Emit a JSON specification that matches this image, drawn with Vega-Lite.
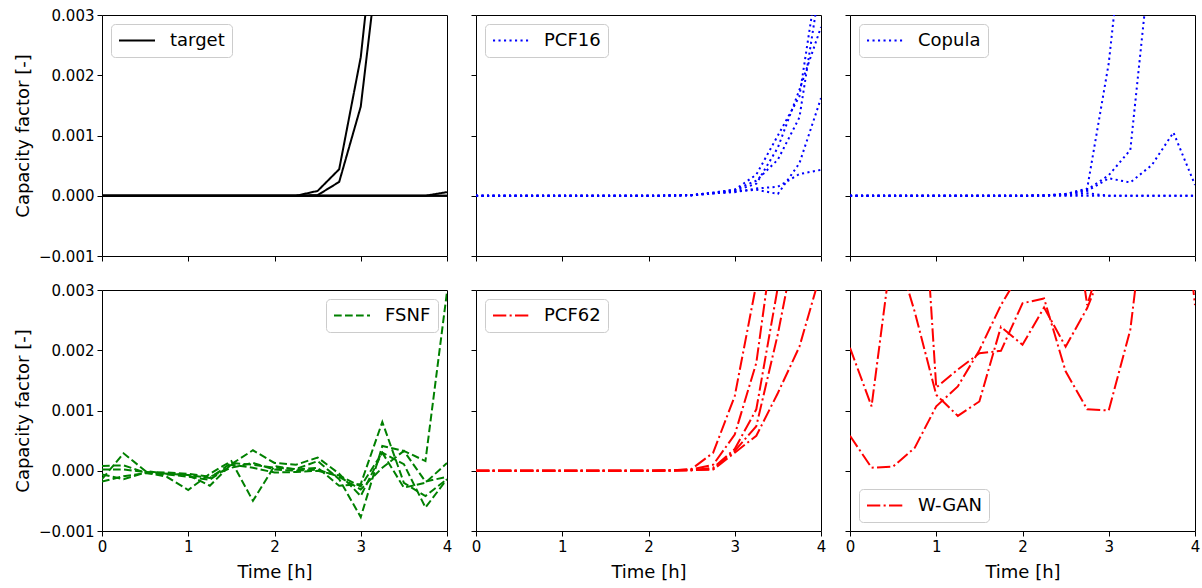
{
"$schema":"https://vega.github.io/schema/vega-lite/v6.json",
"padding":{"left":13,"top":7,"right":5,"bottom":5},
"background":"white",
"datasets":{"d":[
{"p":"target","s":1,"t":0,"v":0},{"p":"target","s":1,"t":0.25,"v":0},{"p":"target","s":1,"t":0.5,"v":0},{"p":"target","s":1,"t":0.75,"v":0},{"p":"target","s":1,"t":1,"v":0},{"p":"target","s":1,"t":1.25,"v":0},{"p":"target","s":1,"t":1.5,"v":0},{"p":"target","s":1,"t":1.75,"v":0},{"p":"target","s":1,"t":2,"v":0},{"p":"target","s":1,"t":2.25,"v":0},{"p":"target","s":1,"t":2.5,"v":0.00008},{"p":"target","s":1,"t":2.75,"v":0.00044},{"p":"target","s":1,"t":3,"v":0.0023},{"p":"target","s":1,"t":3.25,"v":0.0056},{"p":"target","s":1,"t":3.5,"v":0.007},{"p":"target","s":1,"t":3.75,"v":0.008},{"p":"target","s":1,"t":4,"v":0.009},
{"p":"target","s":2,"t":0,"v":0},{"p":"target","s":2,"t":0.25,"v":0},{"p":"target","s":2,"t":0.5,"v":0},{"p":"target","s":2,"t":0.75,"v":0},{"p":"target","s":2,"t":1,"v":0},{"p":"target","s":2,"t":1.25,"v":0},{"p":"target","s":2,"t":1.5,"v":0},{"p":"target","s":2,"t":1.75,"v":0},{"p":"target","s":2,"t":2,"v":0},{"p":"target","s":2,"t":2.25,"v":0},{"p":"target","s":2,"t":2.5,"v":0.00001},{"p":"target","s":2,"t":2.75,"v":0.00023},{"p":"target","s":2,"t":3,"v":0.00148},{"p":"target","s":2,"t":3.25,"v":0.0045},{"p":"target","s":2,"t":3.5,"v":0.006},{"p":"target","s":2,"t":3.75,"v":0.007},{"p":"target","s":2,"t":4,"v":0.008},
{"p":"target","s":3,"t":0,"v":0},{"p":"target","s":3,"t":0.25,"v":0},{"p":"target","s":3,"t":0.5,"v":0},{"p":"target","s":3,"t":0.75,"v":0},{"p":"target","s":3,"t":1,"v":0},{"p":"target","s":3,"t":1.25,"v":0},{"p":"target","s":3,"t":1.5,"v":0},{"p":"target","s":3,"t":1.75,"v":0},{"p":"target","s":3,"t":2,"v":0},{"p":"target","s":3,"t":2.25,"v":0},{"p":"target","s":3,"t":2.5,"v":0},{"p":"target","s":3,"t":2.75,"v":0},{"p":"target","s":3,"t":3,"v":0},{"p":"target","s":3,"t":3.25,"v":0},{"p":"target","s":3,"t":3.5,"v":0},{"p":"target","s":3,"t":3.75,"v":0},{"p":"target","s":3,"t":4,"v":0.00006},
{"p":"target","s":4,"t":0,"v":0},{"p":"target","s":4,"t":0.25,"v":0},{"p":"target","s":4,"t":0.5,"v":0},{"p":"target","s":4,"t":0.75,"v":0},{"p":"target","s":4,"t":1,"v":0},{"p":"target","s":4,"t":1.25,"v":0},{"p":"target","s":4,"t":1.5,"v":0},{"p":"target","s":4,"t":1.75,"v":0},{"p":"target","s":4,"t":2,"v":0},{"p":"target","s":4,"t":2.25,"v":0},{"p":"target","s":4,"t":2.5,"v":0},{"p":"target","s":4,"t":2.75,"v":0},{"p":"target","s":4,"t":3,"v":0},{"p":"target","s":4,"t":3.25,"v":0},{"p":"target","s":4,"t":3.5,"v":0},{"p":"target","s":4,"t":3.75,"v":0},{"p":"target","s":4,"t":4,"v":0},
{"p":"target","s":5,"t":0,"v":0},{"p":"target","s":5,"t":0.25,"v":0},{"p":"target","s":5,"t":0.5,"v":0},{"p":"target","s":5,"t":0.75,"v":0},{"p":"target","s":5,"t":1,"v":0},{"p":"target","s":5,"t":1.25,"v":0},{"p":"target","s":5,"t":1.5,"v":0},{"p":"target","s":5,"t":1.75,"v":0},{"p":"target","s":5,"t":2,"v":0},{"p":"target","s":5,"t":2.25,"v":0},{"p":"target","s":5,"t":2.5,"v":0},{"p":"target","s":5,"t":2.75,"v":0},{"p":"target","s":5,"t":3,"v":0},{"p":"target","s":5,"t":3.25,"v":0},{"p":"target","s":5,"t":3.5,"v":0},{"p":"target","s":5,"t":3.75,"v":0},{"p":"target","s":5,"t":4,"v":0},

{"p":"PCF16","s":1,"t":0,"v":0},{"p":"PCF16","s":1,"t":0.25,"v":0},{"p":"PCF16","s":1,"t":0.5,"v":0},{"p":"PCF16","s":1,"t":0.75,"v":0},{"p":"PCF16","s":1,"t":1,"v":0},{"p":"PCF16","s":1,"t":1.25,"v":0},{"p":"PCF16","s":1,"t":1.5,"v":0},{"p":"PCF16","s":1,"t":1.75,"v":0},{"p":"PCF16","s":1,"t":2,"v":0},{"p":"PCF16","s":1,"t":2.25,"v":0.000003},{"p":"PCF16","s":1,"t":2.5,"v":0.00001},{"p":"PCF16","s":1,"t":2.75,"v":0.00005},{"p":"PCF16","s":1,"t":3,"v":0.0001},{"p":"PCF16","s":1,"t":3.25,"v":0.00035},{"p":"PCF16","s":1,"t":3.5,"v":0.001},{"p":"PCF16","s":1,"t":3.75,"v":0.00165},{"p":"PCF16","s":1,"t":4,"v":0.004},
{"p":"PCF16","s":2,"t":0,"v":0},{"p":"PCF16","s":2,"t":0.25,"v":0},{"p":"PCF16","s":2,"t":0.5,"v":0},{"p":"PCF16","s":2,"t":0.75,"v":0},{"p":"PCF16","s":2,"t":1,"v":0},{"p":"PCF16","s":2,"t":1.25,"v":0},{"p":"PCF16","s":2,"t":1.5,"v":0},{"p":"PCF16","s":2,"t":1.75,"v":0},{"p":"PCF16","s":2,"t":2,"v":0},{"p":"PCF16","s":2,"t":2.25,"v":0.000003},{"p":"PCF16","s":2,"t":2.5,"v":0.00001},{"p":"PCF16","s":2,"t":2.75,"v":0.00004},{"p":"PCF16","s":2,"t":3,"v":0.00008},{"p":"PCF16","s":2,"t":3.25,"v":0.0002},{"p":"PCF16","s":2,"t":3.5,"v":0.0008},{"p":"PCF16","s":2,"t":3.75,"v":0.00176},{"p":"PCF16","s":2,"t":4,"v":0.0028},
{"p":"PCF16","s":3,"t":0,"v":0},{"p":"PCF16","s":3,"t":0.25,"v":0},{"p":"PCF16","s":3,"t":0.5,"v":0},{"p":"PCF16","s":3,"t":0.75,"v":0},{"p":"PCF16","s":3,"t":1,"v":0},{"p":"PCF16","s":3,"t":1.25,"v":0},{"p":"PCF16","s":3,"t":1.5,"v":0},{"p":"PCF16","s":3,"t":1.75,"v":0},{"p":"PCF16","s":3,"t":2,"v":0},{"p":"PCF16","s":3,"t":2.25,"v":0.000003},{"p":"PCF16","s":3,"t":2.5,"v":0.00001},{"p":"PCF16","s":3,"t":2.75,"v":0.00004},{"p":"PCF16","s":3,"t":3,"v":0.00007},{"p":"PCF16","s":3,"t":3.25,"v":0.0001},{"p":"PCF16","s":3,"t":3.5,"v":0.00003},{"p":"PCF16","s":3,"t":3.75,"v":0.00054},{"p":"PCF16","s":3,"t":4,"v":0.00162},
{"p":"PCF16","s":4,"t":0,"v":0},{"p":"PCF16","s":4,"t":0.25,"v":0},{"p":"PCF16","s":4,"t":0.5,"v":0},{"p":"PCF16","s":4,"t":0.75,"v":0},{"p":"PCF16","s":4,"t":1,"v":0},{"p":"PCF16","s":4,"t":1.25,"v":0},{"p":"PCF16","s":4,"t":1.5,"v":0},{"p":"PCF16","s":4,"t":1.75,"v":0},{"p":"PCF16","s":4,"t":2,"v":0},{"p":"PCF16","s":4,"t":2.25,"v":0.000003},{"p":"PCF16","s":4,"t":2.5,"v":0.00001},{"p":"PCF16","s":4,"t":2.75,"v":0.00004},{"p":"PCF16","s":4,"t":3,"v":0.00006},{"p":"PCF16","s":4,"t":3.25,"v":0.00012},{"p":"PCF16","s":4,"t":3.5,"v":0.00015},{"p":"PCF16","s":4,"t":3.75,"v":0.00036},{"p":"PCF16","s":4,"t":4,"v":0.00043},
{"p":"PCF16","s":5,"t":0,"v":0},{"p":"PCF16","s":5,"t":0.25,"v":0},{"p":"PCF16","s":5,"t":0.5,"v":0},{"p":"PCF16","s":5,"t":0.75,"v":0},{"p":"PCF16","s":5,"t":1,"v":0},{"p":"PCF16","s":5,"t":1.25,"v":0},{"p":"PCF16","s":5,"t":1.5,"v":0},{"p":"PCF16","s":5,"t":1.75,"v":0},{"p":"PCF16","s":5,"t":2,"v":0},{"p":"PCF16","s":5,"t":2.25,"v":0.000003},{"p":"PCF16","s":5,"t":2.5,"v":0.00001},{"p":"PCF16","s":5,"t":2.75,"v":0.00005},{"p":"PCF16","s":5,"t":3,"v":0.0001},{"p":"PCF16","s":5,"t":3.25,"v":0.00025},{"p":"PCF16","s":5,"t":3.5,"v":0.0006},{"p":"PCF16","s":5,"t":3.75,"v":0.0013},{"p":"PCF16","s":5,"t":4,"v":0.0036},

{"p":"Copula","s":1,"t":0,"v":0},{"p":"Copula","s":1,"t":0.25,"v":0},{"p":"Copula","s":1,"t":0.5,"v":0},{"p":"Copula","s":1,"t":0.75,"v":0},{"p":"Copula","s":1,"t":1,"v":0},{"p":"Copula","s":1,"t":1.25,"v":0},{"p":"Copula","s":1,"t":1.5,"v":0},{"p":"Copula","s":1,"t":1.75,"v":0},{"p":"Copula","s":1,"t":2,"v":0},{"p":"Copula","s":1,"t":2.25,"v":0.000005},{"p":"Copula","s":1,"t":2.5,"v":0.00003},{"p":"Copula","s":1,"t":2.75,"v":0.00012},{"p":"Copula","s":1,"t":3,"v":0.0022},{"p":"Copula","s":1,"t":3.25,"v":0.0055},{"p":"Copula","s":1,"t":3.5,"v":0.0065},{"p":"Copula","s":1,"t":3.75,"v":0.007},{"p":"Copula","s":1,"t":4,"v":0.0075},
{"p":"Copula","s":2,"t":0,"v":0},{"p":"Copula","s":2,"t":0.25,"v":0},{"p":"Copula","s":2,"t":0.5,"v":0},{"p":"Copula","s":2,"t":0.75,"v":0},{"p":"Copula","s":2,"t":1,"v":0},{"p":"Copula","s":2,"t":1.25,"v":0},{"p":"Copula","s":2,"t":1.5,"v":0},{"p":"Copula","s":2,"t":1.75,"v":0},{"p":"Copula","s":2,"t":2,"v":0},{"p":"Copula","s":2,"t":2.25,"v":0.000005},{"p":"Copula","s":2,"t":2.5,"v":0.00003},{"p":"Copula","s":2,"t":2.75,"v":0.0001},{"p":"Copula","s":2,"t":3,"v":0.00034},{"p":"Copula","s":2,"t":3.25,"v":0.00076},{"p":"Copula","s":2,"t":3.5,"v":0.0042},{"p":"Copula","s":2,"t":3.75,"v":0.005},{"p":"Copula","s":2,"t":4,"v":0.0055},
{"p":"Copula","s":3,"t":0,"v":0},{"p":"Copula","s":3,"t":0.25,"v":0},{"p":"Copula","s":3,"t":0.5,"v":0},{"p":"Copula","s":3,"t":0.75,"v":0},{"p":"Copula","s":3,"t":1,"v":0},{"p":"Copula","s":3,"t":1.25,"v":0},{"p":"Copula","s":3,"t":1.5,"v":0},{"p":"Copula","s":3,"t":1.75,"v":0},{"p":"Copula","s":3,"t":2,"v":0},{"p":"Copula","s":3,"t":2.25,"v":0.000005},{"p":"Copula","s":3,"t":2.5,"v":0.00002},{"p":"Copula","s":3,"t":2.75,"v":0.00008},{"p":"Copula","s":3,"t":3,"v":0.00029},{"p":"Copula","s":3,"t":3.25,"v":0.00022},{"p":"Copula","s":3,"t":3.5,"v":0.00051},{"p":"Copula","s":3,"t":3.75,"v":0.00105},{"p":"Copula","s":3,"t":4,"v":0.00018},
{"p":"Copula","s":4,"t":0,"v":0},{"p":"Copula","s":4,"t":0.25,"v":0},{"p":"Copula","s":4,"t":0.5,"v":0},{"p":"Copula","s":4,"t":0.75,"v":0},{"p":"Copula","s":4,"t":1,"v":0},{"p":"Copula","s":4,"t":1.25,"v":0},{"p":"Copula","s":4,"t":1.5,"v":0},{"p":"Copula","s":4,"t":1.75,"v":0},{"p":"Copula","s":4,"t":2,"v":0},{"p":"Copula","s":4,"t":2.25,"v":0.000005},{"p":"Copula","s":4,"t":2.5,"v":0.00001},{"p":"Copula","s":4,"t":2.75,"v":0.00004},{"p":"Copula","s":4,"t":3,"v":0},{"p":"Copula","s":4,"t":3.25,"v":0},{"p":"Copula","s":4,"t":3.5,"v":0},{"p":"Copula","s":4,"t":3.75,"v":0},{"p":"Copula","s":4,"t":4,"v":0},
{"p":"Copula","s":5,"t":0,"v":0},{"p":"Copula","s":5,"t":0.25,"v":0},{"p":"Copula","s":5,"t":0.5,"v":0},{"p":"Copula","s":5,"t":0.75,"v":0},{"p":"Copula","s":5,"t":1,"v":0},{"p":"Copula","s":5,"t":1.25,"v":0},{"p":"Copula","s":5,"t":1.5,"v":0},{"p":"Copula","s":5,"t":1.75,"v":0},{"p":"Copula","s":5,"t":2,"v":0},{"p":"Copula","s":5,"t":2.25,"v":0},{"p":"Copula","s":5,"t":2.5,"v":0},{"p":"Copula","s":5,"t":2.75,"v":0},{"p":"Copula","s":5,"t":3,"v":0},{"p":"Copula","s":5,"t":3.25,"v":0},{"p":"Copula","s":5,"t":3.5,"v":0},{"p":"Copula","s":5,"t":3.75,"v":0},{"p":"Copula","s":5,"t":4,"v":0},

{"p":"FSNF","s":1,"t":0,"v":-0.00014},{"p":"FSNF","s":1,"t":0.25,"v":0.00029},{"p":"FSNF","s":1,"t":0.5,"v":0},{"p":"FSNF","s":1,"t":0.75,"v":-0.00005},{"p":"FSNF","s":1,"t":1,"v":-0.00007},{"p":"FSNF","s":1,"t":1.25,"v":-0.00012},{"p":"FSNF","s":1,"t":1.5,"v":0.00013},{"p":"FSNF","s":1,"t":1.75,"v":0.0001},{"p":"FSNF","s":1,"t":2,"v":0.00005},{"p":"FSNF","s":1,"t":2.25,"v":0.00003},{"p":"FSNF","s":1,"t":2.5,"v":0.00016},{"p":"FSNF","s":1,"t":2.75,"v":-0.00014},{"p":"FSNF","s":1,"t":3,"v":-0.00077},{"p":"FSNF","s":1,"t":3.25,"v":0.00041},{"p":"FSNF","s":1,"t":3.5,"v":0.00033},{"p":"FSNF","s":1,"t":3.75,"v":0.00016},{"p":"FSNF","s":1,"t":4,"v":0.00297},
{"p":"FSNF","s":2,"t":0,"v":0.00008},{"p":"FSNF","s":2,"t":0.25,"v":0.00009},{"p":"FSNF","s":2,"t":0.5,"v":-0.00003},{"p":"FSNF","s":2,"t":0.75,"v":-0.0001},{"p":"FSNF","s":2,"t":1,"v":-0.00032},{"p":"FSNF","s":2,"t":1.25,"v":-0.00005},{"p":"FSNF","s":2,"t":1.5,"v":0.00016},{"p":"FSNF","s":2,"t":1.75,"v":-0.0005},{"p":"FSNF","s":2,"t":2,"v":0.00008},{"p":"FSNF","s":2,"t":2.25,"v":0.00002},{"p":"FSNF","s":2,"t":2.5,"v":0.00005},{"p":"FSNF","s":2,"t":2.75,"v":-0.00025},{"p":"FSNF","s":2,"t":3,"v":-0.00022},{"p":"FSNF","s":2,"t":3.25,"v":0.00081},{"p":"FSNF","s":2,"t":3.5,"v":-0.0002},{"p":"FSNF","s":2,"t":3.75,"v":-0.00042},{"p":"FSNF","s":2,"t":4,"v":-0.00014},
{"p":"FSNF","s":3,"t":0,"v":-0.00006},{"p":"FSNF","s":3,"t":0.25,"v":-0.00014},{"p":"FSNF","s":3,"t":0.5,"v":-0.00003},{"p":"FSNF","s":3,"t":0.75,"v":-0.00005},{"p":"FSNF","s":3,"t":1,"v":-0.00007},{"p":"FSNF","s":3,"t":1.25,"v":-0.00025},{"p":"FSNF","s":3,"t":1.5,"v":0.00011},{"p":"FSNF","s":3,"t":1.75,"v":0.00034},{"p":"FSNF","s":3,"t":2,"v":0.00013},{"p":"FSNF","s":3,"t":2.25,"v":0.0001},{"p":"FSNF","s":3,"t":2.5,"v":0.00022},{"p":"FSNF","s":3,"t":2.75,"v":-0.00005},{"p":"FSNF","s":3,"t":3,"v":-0.00042},{"p":"FSNF","s":3,"t":3.25,"v":0.0003},{"p":"FSNF","s":3,"t":3.5,"v":0.00011},{"p":"FSNF","s":3,"t":3.75,"v":-0.00061},{"p":"FSNF","s":3,"t":4,"v":-0.00014},
{"p":"FSNF","s":4,"t":0,"v":0.00002},{"p":"FSNF","s":4,"t":0.25,"v":0.00002},{"p":"FSNF","s":4,"t":0.5,"v":-0.00002},{"p":"FSNF","s":4,"t":0.75,"v":-0.00003},{"p":"FSNF","s":4,"t":1,"v":-0.00005},{"p":"FSNF","s":4,"t":1.25,"v":-0.0001},{"p":"FSNF","s":4,"t":1.5,"v":0.00005},{"p":"FSNF","s":4,"t":1.75,"v":0.00013},{"p":"FSNF","s":4,"t":2,"v":0.00002},{"p":"FSNF","s":4,"t":2.25,"v":0},{"p":"FSNF","s":4,"t":2.5,"v":0.00002},{"p":"FSNF","s":4,"t":2.75,"v":-0.0001},{"p":"FSNF","s":4,"t":3,"v":-0.00031},{"p":"FSNF","s":4,"t":3.25,"v":0.00005},{"p":"FSNF","s":4,"t":3.5,"v":0.00033},{"p":"FSNF","s":4,"t":3.75,"v":-0.00018},{"p":"FSNF","s":4,"t":4,"v":-0.0001},
{"p":"FSNF","s":5,"t":0,"v":-0.00018},{"p":"FSNF","s":5,"t":0.25,"v":-0.00009},{"p":"FSNF","s":5,"t":0.5,"v":-0.00004},{"p":"FSNF","s":5,"t":0.75,"v":-0.00006},{"p":"FSNF","s":5,"t":1,"v":-0.0001},{"p":"FSNF","s":5,"t":1.25,"v":-0.00015},{"p":"FSNF","s":5,"t":1.5,"v":0.0001},{"p":"FSNF","s":5,"t":1.75,"v":0.00005},{"p":"FSNF","s":5,"t":2,"v":-0.00003},{"p":"FSNF","s":5,"t":2.25,"v":-0.00002},{"p":"FSNF","s":5,"t":2.5,"v":0},{"p":"FSNF","s":5,"t":2.75,"v":-0.00008},{"p":"FSNF","s":5,"t":3,"v":-0.00026},{"p":"FSNF","s":5,"t":3.25,"v":0.0003},{"p":"FSNF","s":5,"t":3.5,"v":-0.00028},{"p":"FSNF","s":5,"t":3.75,"v":-0.0002},{"p":"FSNF","s":5,"t":4,"v":0.00013},

{"p":"PCF62","s":1,"t":0,"v":0},{"p":"PCF62","s":1,"t":0.25,"v":0},{"p":"PCF62","s":1,"t":0.5,"v":0},{"p":"PCF62","s":1,"t":0.75,"v":0},{"p":"PCF62","s":1,"t":1,"v":0},{"p":"PCF62","s":1,"t":1.25,"v":0},{"p":"PCF62","s":1,"t":1.5,"v":0},{"p":"PCF62","s":1,"t":1.75,"v":0},{"p":"PCF62","s":1,"t":2,"v":0},{"p":"PCF62","s":1,"t":2.25,"v":0.000005},{"p":"PCF62","s":1,"t":2.5,"v":0.00003},{"p":"PCF62","s":1,"t":2.75,"v":0.0003},{"p":"PCF62","s":1,"t":3,"v":0.00124},{"p":"PCF62","s":1,"t":3.25,"v":0.0031},{"p":"PCF62","s":1,"t":3.5,"v":0.006},{"p":"PCF62","s":1,"t":3.75,"v":0.007},{"p":"PCF62","s":1,"t":4,"v":0.008},
{"p":"PCF62","s":2,"t":0,"v":0},{"p":"PCF62","s":2,"t":0.25,"v":0},{"p":"PCF62","s":2,"t":0.5,"v":0},{"p":"PCF62","s":2,"t":0.75,"v":0},{"p":"PCF62","s":2,"t":1,"v":0},{"p":"PCF62","s":2,"t":1.25,"v":0},{"p":"PCF62","s":2,"t":1.5,"v":0},{"p":"PCF62","s":2,"t":1.75,"v":0},{"p":"PCF62","s":2,"t":2,"v":0},{"p":"PCF62","s":2,"t":2.25,"v":0.000005},{"p":"PCF62","s":2,"t":2.5,"v":0.00002},{"p":"PCF62","s":2,"t":2.75,"v":0.0001},{"p":"PCF62","s":2,"t":3,"v":0.0006},{"p":"PCF62","s":2,"t":3.25,"v":0.00179},{"p":"PCF62","s":2,"t":3.5,"v":0.0044},{"p":"PCF62","s":2,"t":3.75,"v":0.006},{"p":"PCF62","s":2,"t":4,"v":0.007},
{"p":"PCF62","s":3,"t":0,"v":0},{"p":"PCF62","s":3,"t":0.25,"v":0},{"p":"PCF62","s":3,"t":0.5,"v":0},{"p":"PCF62","s":3,"t":0.75,"v":0},{"p":"PCF62","s":3,"t":1,"v":0},{"p":"PCF62","s":3,"t":1.25,"v":0},{"p":"PCF62","s":3,"t":1.5,"v":0},{"p":"PCF62","s":3,"t":1.75,"v":0},{"p":"PCF62","s":3,"t":2,"v":0},{"p":"PCF62","s":3,"t":2.25,"v":0.000003},{"p":"PCF62","s":3,"t":2.5,"v":0.00001},{"p":"PCF62","s":3,"t":2.75,"v":0.00005},{"p":"PCF62","s":3,"t":3,"v":0.00036},{"p":"PCF62","s":3,"t":3.25,"v":0.00102},{"p":"PCF62","s":3,"t":3.5,"v":0.00305},{"p":"PCF62","s":3,"t":3.75,"v":0.005},{"p":"PCF62","s":3,"t":4,"v":0.006},
{"p":"PCF62","s":4,"t":0,"v":0},{"p":"PCF62","s":4,"t":0.25,"v":0},{"p":"PCF62","s":4,"t":0.5,"v":0},{"p":"PCF62","s":4,"t":0.75,"v":0},{"p":"PCF62","s":4,"t":1,"v":0},{"p":"PCF62","s":4,"t":1.25,"v":0},{"p":"PCF62","s":4,"t":1.5,"v":0},{"p":"PCF62","s":4,"t":1.75,"v":0},{"p":"PCF62","s":4,"t":2,"v":0},{"p":"PCF62","s":4,"t":2.25,"v":0.000003},{"p":"PCF62","s":4,"t":2.5,"v":0.00001},{"p":"PCF62","s":4,"t":2.75,"v":0.00003},{"p":"PCF62","s":4,"t":3,"v":0.00033},{"p":"PCF62","s":4,"t":3.25,"v":0.00074},{"p":"PCF62","s":4,"t":3.5,"v":0.00227},{"p":"PCF62","s":4,"t":3.75,"v":0.0041},{"p":"PCF62","s":4,"t":4,"v":0.006},
{"p":"PCF62","s":5,"t":0,"v":0},{"p":"PCF62","s":5,"t":0.25,"v":0},{"p":"PCF62","s":5,"t":0.5,"v":0},{"p":"PCF62","s":5,"t":0.75,"v":0},{"p":"PCF62","s":5,"t":1,"v":0},{"p":"PCF62","s":5,"t":1.25,"v":0},{"p":"PCF62","s":5,"t":1.5,"v":0},{"p":"PCF62","s":5,"t":1.75,"v":0},{"p":"PCF62","s":5,"t":2,"v":0},{"p":"PCF62","s":5,"t":2.25,"v":0.000003},{"p":"PCF62","s":5,"t":2.5,"v":0.00001},{"p":"PCF62","s":5,"t":2.75,"v":0.00002},{"p":"PCF62","s":5,"t":3,"v":0.0003},{"p":"PCF62","s":5,"t":3.25,"v":0.00058},{"p":"PCF62","s":5,"t":3.5,"v":0.00129},{"p":"PCF62","s":5,"t":3.75,"v":0.00206},{"p":"PCF62","s":5,"t":4,"v":0.0033},

{"p":"W-GAN","s":1,"t":0,"v":0.00204},{"p":"W-GAN","s":1,"t":0.25,"v":0.00107},{"p":"W-GAN","s":1,"t":0.5,"v":0.00383},{"p":"W-GAN","s":1,"t":0.75,"v":0.00264},{"p":"W-GAN","s":1,"t":1,"v":0.00126},{"p":"W-GAN","s":1,"t":1.25,"v":0.00091},{"p":"W-GAN","s":1,"t":1.5,"v":0.00115},{"p":"W-GAN","s":1,"t":1.75,"v":0.00239},{"p":"W-GAN","s":1,"t":2,"v":0.00209},{"p":"W-GAN","s":1,"t":2.25,"v":0.00271},{"p":"W-GAN","s":1,"t":2.5,"v":0.00206},{"p":"W-GAN","s":1,"t":2.75,"v":0.0027},{"p":"W-GAN","s":1,"t":3,"v":0.0036},{"p":"W-GAN","s":1,"t":3.25,"v":0.004},{"p":"W-GAN","s":1,"t":3.5,"v":0.0044},{"p":"W-GAN","s":1,"t":3.75,"v":0.0048},{"p":"W-GAN","s":1,"t":4,"v":0.005},
{"p":"W-GAN","s":2,"t":0,"v":0.00058},{"p":"W-GAN","s":2,"t":0.25,"v":0.00005},{"p":"W-GAN","s":2,"t":0.5,"v":0.00007},{"p":"W-GAN","s":2,"t":0.75,"v":0.00038},{"p":"W-GAN","s":2,"t":1,"v":0.00107},{"p":"W-GAN","s":2,"t":1.25,"v":0.0014},{"p":"W-GAN","s":2,"t":1.5,"v":0.002},{"p":"W-GAN","s":2,"t":1.75,"v":0.00275},{"p":"W-GAN","s":2,"t":2,"v":0.00335},{"p":"W-GAN","s":2,"t":2.25,"v":0.0042},{"p":"W-GAN","s":2,"t":2.5,"v":0.0052},{"p":"W-GAN","s":2,"t":2.75,"v":0.00275},{"p":"W-GAN","s":2,"t":3,"v":0.0039},{"p":"W-GAN","s":2,"t":3.25,"v":0.0042},{"p":"W-GAN","s":2,"t":3.5,"v":0.0045},{"p":"W-GAN","s":2,"t":3.75,"v":0.0048},{"p":"W-GAN","s":2,"t":4,"v":0.005},
{"p":"W-GAN","s":3,"t":0,"v":0.005},{"p":"W-GAN","s":3,"t":0.25,"v":0.0055},{"p":"W-GAN","s":3,"t":0.5,"v":0.0065},{"p":"W-GAN","s":3,"t":0.75,"v":0.007},{"p":"W-GAN","s":3,"t":1,"v":0.00138},{"p":"W-GAN","s":3,"t":1.25,"v":0.00168},{"p":"W-GAN","s":3,"t":1.5,"v":0.00195},{"p":"W-GAN","s":3,"t":1.75,"v":0.00199},{"p":"W-GAN","s":3,"t":2,"v":0.00278},{"p":"W-GAN","s":3,"t":2.25,"v":0.00286},{"p":"W-GAN","s":3,"t":2.5,"v":0.00165},{"p":"W-GAN","s":3,"t":2.75,"v":0.00102},{"p":"W-GAN","s":3,"t":3,"v":0.001},{"p":"W-GAN","s":3,"t":3.25,"v":0.00234},{"p":"W-GAN","s":3,"t":3.5,"v":0.0053},{"p":"W-GAN","s":3,"t":3.75,"v":0.006},{"p":"W-GAN","s":3,"t":4,"v":0.00275}
]},
"data":{"name":"d"},
"columns":3,
"bounds":"flush",
"spacing":{"row":34,"column":29},
"concat":[
{"width":345,"height":241,"transform":[{"filter":"datum.p === 'target'"}],"mark":{"type":"line","clip":true,"strokeWidth":2},
 "encoding":{"x":{"field":"t","type":"quantitative","scale":{"domain":[0,4],"nice":false},"axis":{"values":[0,1,2,3,4],"labels":false,"title":null}},
 "y":{"field":"v","type":"quantitative","scale":{"domain":[-0.001,0.003],"nice":false},"axis":{"values":[-0.001,0,0.001,0.002,0.003],"format":".3f","title":"Capacity factor [-]"}},
 "detail":{"field":"s","type":"nominal"},
 "color":{"field":"p","type":"nominal","scale":{"range":["#000000"]},"legend":{"title":null,"orient":"top-left"}},
 "strokeDash":{"field":"p","type":"nominal","scale":{"range":[[1,0]]},"legend":{"title":null,"orient":"top-left"}}}},
{"width":345,"height":241,"transform":[{"filter":"datum.p === 'PCF16'"}],"mark":{"type":"line","clip":true,"strokeWidth":2},
 "encoding":{"x":{"field":"t","type":"quantitative","scale":{"domain":[0,4],"nice":false},"axis":{"values":[0,1,2,3,4],"labels":false,"title":null}},
 "y":{"field":"v","type":"quantitative","scale":{"domain":[-0.001,0.003],"nice":false},"axis":{"values":[-0.001,0,0.001,0.002,0.003],"labels":false,"title":null}},
 "detail":{"field":"s","type":"nominal"},
 "color":{"field":"p","type":"nominal","scale":{"range":["#0000ff"]},"legend":{"title":null,"orient":"top-left"}},
 "strokeDash":{"field":"p","type":"nominal","scale":{"range":[[2.1,3.4]]},"legend":{"title":null,"orient":"top-left"}}}},
{"width":345,"height":241,"transform":[{"filter":"datum.p === 'Copula'"}],"mark":{"type":"line","clip":true,"strokeWidth":2},
 "encoding":{"x":{"field":"t","type":"quantitative","scale":{"domain":[0,4],"nice":false},"axis":{"values":[0,1,2,3,4],"labels":false,"title":null}},
 "y":{"field":"v","type":"quantitative","scale":{"domain":[-0.001,0.003],"nice":false},"axis":{"values":[-0.001,0,0.001,0.002,0.003],"labels":false,"title":null}},
 "detail":{"field":"s","type":"nominal"},
 "color":{"field":"p","type":"nominal","scale":{"range":["#0000ff"]},"legend":{"title":null,"orient":"top-left"}},
 "strokeDash":{"field":"p","type":"nominal","scale":{"range":[[2.1,3.4]]},"legend":{"title":null,"orient":"top-left"}}}},
{"width":345,"height":241,"transform":[{"filter":"datum.p === 'FSNF'"}],"mark":{"type":"line","clip":true,"strokeWidth":2},
 "encoding":{"x":{"field":"t","type":"quantitative","scale":{"domain":[0,4],"nice":false},"axis":{"values":[0,1,2,3,4],"format":"d","title":"Time [h]","titlePadding":9}},
 "y":{"field":"v","type":"quantitative","scale":{"domain":[-0.001,0.003],"nice":false},"axis":{"values":[-0.001,0,0.001,0.002,0.003],"format":".3f","title":"Capacity factor [-]"}},
 "detail":{"field":"s","type":"nominal"},
 "color":{"field":"p","type":"nominal","scale":{"range":["#008000"]},"legend":{"title":null,"orient":"top-right"}},
 "strokeDash":{"field":"p","type":"nominal","scale":{"range":[[7.7,3.3]]},"legend":{"title":null,"orient":"top-right"}}}},
{"width":345,"height":241,"transform":[{"filter":"datum.p === 'PCF62'"}],"mark":{"type":"line","clip":true,"strokeWidth":2},
 "encoding":{"x":{"field":"t","type":"quantitative","scale":{"domain":[0,4],"nice":false},"axis":{"values":[0,1,2,3,4],"format":"d","title":"Time [h]","titlePadding":9}},
 "y":{"field":"v","type":"quantitative","scale":{"domain":[-0.001,0.003],"nice":false},"axis":{"values":[-0.001,0,0.001,0.002,0.003],"labels":false,"title":null}},
 "detail":{"field":"s","type":"nominal"},
 "color":{"field":"p","type":"nominal","scale":{"range":["#ff0000"]},"legend":{"title":null,"orient":"top-left"}},
 "strokeDash":{"field":"p","type":"nominal","scale":{"range":[[13.3,3.3,2.1,3.3]]},"legend":{"title":null,"orient":"top-left"}}}},
{"width":345,"height":241,"transform":[{"filter":"datum.p === 'W-GAN'"}],"mark":{"type":"line","clip":true,"strokeWidth":2},
 "encoding":{"x":{"field":"t","type":"quantitative","scale":{"domain":[0,4],"nice":false},"axis":{"values":[0,1,2,3,4],"format":"d","title":"Time [h]","titlePadding":9}},
 "y":{"field":"v","type":"quantitative","scale":{"domain":[-0.001,0.003],"nice":false},"axis":{"values":[-0.001,0,0.001,0.002,0.003],"labels":false,"title":null}},
 "detail":{"field":"s","type":"nominal"},
 "color":{"field":"p","type":"nominal","scale":{"range":["#ff0000"]},"legend":{"title":null,"orient":"bottom-left"}},
 "strokeDash":{"field":"p","type":"nominal","scale":{"range":[[13.3,3.3,2.1,3.3]]},"legend":{"title":null,"orient":"bottom-left"}}}}
],
"resolve":{"scale":{"color":"independent","strokeDash":"independent","x":"independent","y":"independent"},"legend":{"color":"independent","strokeDash":"independent"}},
"config":{
 "font":"DejaVu Sans",
 "view":{"stroke":"#000000","strokeWidth":1},
 "axis":{"domain":false,"grid":false,"tickColor":"#000000","tickSize":5,"tickWidth":1,"labelFont":"DejaVu Sans","labelFontSize":15,"labelColor":"#000000","titleFont":"DejaVu Sans","titleFontSize":18,"titleFontWeight":"normal","titleColor":"#000000","labelPadding":3,"titlePadding":6,"labelFlush":false,"labelOverlap":false},
 "legend":{"offset":9,"padding":7,"fillColor":"rgba(255,255,255,0.8)","strokeColor":"#cccccc","cornerRadius":4,"symbolType":"stroke","symbolSize":1296,"clipHeight":19,"symbolStrokeWidth":2,"labelFont":"DejaVu Sans","labelFontSize":18,"labelColor":"#000000","labelOffset":14}
}
}
